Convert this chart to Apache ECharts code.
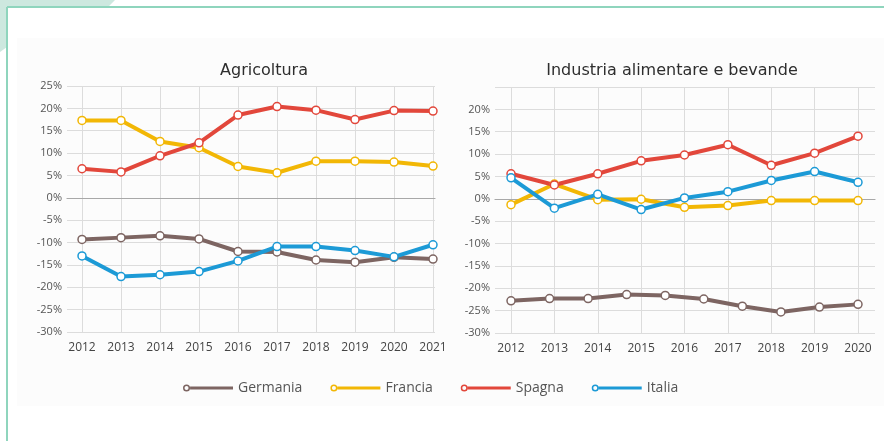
<!DOCTYPE html>
<html>
<head>
<meta charset="utf-8">
<script src="https://cdn.jsdelivr.net/npm/echarts@6/dist/echarts.min.js"></script>
<style>
html,body{margin:0;padding:0;background:#fff;}
#c{width:884px;height:441px;}
</style>
</head>
<body>
<div id="c"></div>
<script>
// ---- data ----
var yearsAgri = ['2012','2013','2014','2015','2016','2017','2018','2019','2020','2021'];
var yearsInd = ['2012','2013','2014','2015','2016','2017','2018','2019','2020'];
var yearsIndGermania = ['2012','2013','2014','2015','2016','2017','2018','2019','2020','2021'];

var agriGermania = [-9.3, -8.9, -8.5, -9.2, -12.0, -12.1, -13.9, -14.4, -13.3, -13.7];
var agriFrancia  = [17.3, 17.3, 12.6, 11.2, 7.0, 5.6, 8.2, 8.2, 8.0, 7.1];
var agriSpagna   = [6.5, 5.8, 9.4, 12.3, 18.5, 20.4, 19.6, 17.5, 19.5, 19.4];
var agriItalia   = [-13.0, -17.6, -17.2, -16.5, -14.1, -10.9, -10.9, -11.8, -13.2, -10.5];

var indGermania = [-22.8, -22.3, -22.3, -21.4, -21.6, -22.4, -24.0, -25.3, -24.2, -23.6];
var indFrancia  = [-1.3, 3.3, -0.2, -0.1, -1.9, -1.5, -0.4, -0.4, -0.4];
var indSpagna   = [5.6, 3.1, 5.6, 8.5, 9.8, 12.1, 7.5, 10.2, 14.0];
var indItalia   = [4.7, -2.1, 1.0, -2.4, 0.2, 1.6, 4.1, 6.1, 3.7];

var seriesNames = ['Germania', 'Francia', 'Spagna', 'Italia'];
var titles = ['Agricoltura', 'Industria alimentare e bevande'];

// ---- styles ----
var colors = {Germania:'#7d6562', Francia:'#f2b705', Spagna:'#e2473b', Italia:'#1c9ad6'};
var FONT = 'Open Sans';
var legendIcon = 'path://M0.5,4 A3.5,3.5 0 1,1 7.5,4 A3.5,3.5 0 1,1 0.5,4 Z M2,4 A2,2 0 1,0 6,4 A2,2 0 1,0 2,4 Z M7.5,2.6 L50,2.6 L50,5.4 L7.5,5.4 Z';

function mkSeries(name, data, xi, yi) {
  return {
    name: name, type: 'line', data: data,
    xAxisIndex: xi, yAxisIndex: yi,
    symbol: 'circle', symbolSize: 8,
    lineStyle: {width: 4, color: colors[name]},
    itemStyle: {color: '#fff', borderColor: colors[name], borderWidth: 1.5},
    color: colors[name],
    emphasis: {disabled: true},
    animation: false
  };
}

function bgY(grid, hideTop) {
  return {
    type: 'value', gridIndex: grid, min: -30, max: 25, interval: 5,
    axisLine: {show: false}, axisTick: {show: false},
    axisLabel: {
      color: '#555', fontFamily: FONT, fontSize: 11, margin: 5,
      formatter: function (v) { return (hideTop && v === 25) ? '' : v + '%'; }
    },
    splitLine: {lineStyle: {color: '#dcdcdc', width: 1}}
  };
}
function bgX(grid) {
  return {
    type: 'value', gridIndex: grid, min: 0, max: 1,
    axisLine: {show: true, onZero: true, lineStyle: {color: '#a8a8a8', width: 1.2}},
    axisTick: {show: false}, axisLabel: {show: false}, splitLine: {show: false}
  };
}
function dataX(grid, cats) {
  return {
    type: 'category', gridIndex: grid, data: cats, boundaryGap: false,
    axisLine: {show: false}, axisTick: {show: false},
    axisLabel: {color: '#444', fontFamily: FONT, fontSize: 12, margin: 10},
    splitLine: {show: true, lineStyle: {color: '#dcdcdc', width: 1}}
  };
}
function dataY(grid) {
  return {type: 'value', gridIndex: grid, min: -30, max: 25, interval: 5, show: false, splitLine: {show: false}};
}

var option = {
  backgroundColor: '#ffffff',
  animation: false,
  graphic: [
    {type: 'rect', shape: {x: 17, y: 38, width: 867, height: 368}, style: {fill: '#fcfcfc'}, z: -10},
    {type: 'polygon', shape: {points: [[0,0],[115,0],[108,7],[7,7],[7,47],[0,52]]}, style: {fill: '#cde8df'}, z: -5},
    {type: 'line', shape: {x1: 7, y1: 7, x2: 7, y2: 441}, style: {stroke: '#8fd5bd', lineWidth: 2}, z: -4},
    {type: 'line', shape: {x1: 7, y1: 7, x2: 884, y2: 7}, style: {stroke: '#8fd5bd', lineWidth: 2}, z: -4}
  ],
  title: [
    {text: titles[0], left: 259, top: 58, textAlign: 'center',
     textStyle: {fontFamily: 'DejaVu Sans', fontSize: 16, fontWeight: 'normal', color: '#2e2e2e'}},
    {text: titles[1], left: 667, top: 58, textAlign: 'center',
     textStyle: {fontFamily: 'DejaVu Sans', fontSize: 16, fontWeight: 'normal', color: '#2e2e2e'}}
  ],
  legend: {
    left: 178, top: 376, itemWidth: 50, itemHeight: 8, itemGap: 28,
    icon: legendIcon,
    data: seriesNames.map(function (n) {
      return {name: n, itemStyle: {color: colors[n], borderWidth: 0}};
    }),
    textStyle: {fontFamily: FONT, fontSize: 14, color: '#555'},
    selectedMode: false
  },
  grid: [
    {left: 67, top: 86, width: 368, height: 246},
    {left: 82, top: 86, width: 351, height: 246},
    {left: 495, top: 87, width: 380, height: 246},
    {left: 511, top: 87, width: 347, height: 246}
  ],
  xAxis: [
    bgX(0),
    dataX(1, yearsAgri),
    bgX(2),
    dataX(3, yearsInd),
    {type: 'category', gridIndex: 3, data: yearsIndGermania, boundaryGap: false, show: false}
  ],
  yAxis: [
    bgY(0, false),
    dataY(1),
    bgY(2, true),
    dataY(3)
  ],
  series: [
    mkSeries('Germania', agriGermania, 1, 1),
    mkSeries('Francia', agriFrancia, 1, 1),
    mkSeries('Spagna', agriSpagna, 1, 1),
    mkSeries('Italia', agriItalia, 1, 1),
    mkSeries('Germania', indGermania, 4, 3),
    mkSeries('Francia', indFrancia, 3, 3),
    mkSeries('Spagna', indSpagna, 3, 3),
    mkSeries('Italia', indItalia, 3, 3)
  ]
};

var chart = echarts.init(document.getElementById('c'), null, {renderer: 'canvas'});
chart.setOption(option);
</script>
</body>
</html>
